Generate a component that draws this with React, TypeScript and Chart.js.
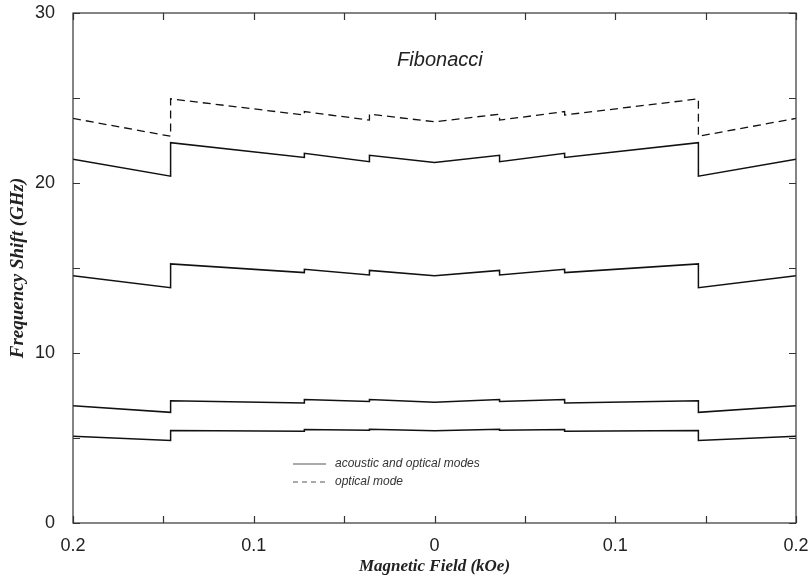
import { useEffect, useRef } from 'react';
import { Chart, registerables } from 'chart.js';

Chart.register(...registerables);

// Magnetic field (kOe); repeated values mark the discontinuities
const fieldKOe = [-0.2, -0.146, -0.146, -0.072, -0.072, -0.036, -0.036, 0, 0.036, 0.036, 0.072, 0.072, 0.146, 0.146, 0.2];

// Frequency shifts (GHz)
const opticalMode = [23.8, 22.75, 24.95, 24.0, 24.2, 23.7, 24.05, 23.6, 24.05, 23.7, 24.2, 24.0, 24.95, 22.75, 23.8];
const modeA = [21.4, 20.4, 22.37, 21.5, 21.75, 21.25, 21.63, 21.2, 21.63, 21.25, 21.75, 21.5, 22.37, 20.4, 21.4];
const modeB = [14.55, 13.84, 15.24, 14.73, 14.92, 14.59, 14.86, 14.55, 14.86, 14.59, 14.92, 14.73, 15.24, 13.84, 14.55];
const modeC = [6.9, 6.51, 7.19, 7.06, 7.27, 7.15, 7.27, 7.1, 7.27, 7.15, 7.27, 7.06, 7.19, 6.51, 6.9];
const modeD = [5.1, 4.85, 5.44, 5.4, 5.5, 5.45, 5.51, 5.43, 5.51, 5.45, 5.5, 5.4, 5.44, 4.85, 5.1];

const xTickValues = [-0.2, -0.15, -0.1, -0.05, 0, 0.05, 0.1, 0.15, 0.2];
const xTickLabels = ['0.2', '', '0.1', '', '0', '', '0.1', '', '0.2'];
const yTickValues = [0, 5, 10, 15, 20, 25, 30];
const yTickLabels = ['0', '', '10', '', '20', '', '30'];

const legendLabels = ['acoustic and optical modes', 'optical mode'];
const panelTitle = 'Fibonacci';

const toPoints = (ys: number[]) => ys.map((v, i) => ({ x: fieldKOe[i], y: v }));

const framePlugin = {
  id: 'framePlugin',
  afterDatasetsDraw(chart: any) {
    const { ctx, chartArea: a, scales } = chart;
    const x = scales.x;
    const y = scales.y;
    ctx.save();
    ctx.strokeStyle = '#333';
    ctx.lineWidth = 1.2;
    ctx.strokeRect(a.left, a.top, a.right - a.left, a.bottom - a.top);
    ctx.beginPath();
    const tl = 7;
    x.ticks.forEach((t: any) => {
      const px = Math.round(x.getPixelForValue(t.value)) + 0.5;
      ctx.moveTo(px, a.bottom);
      ctx.lineTo(px, a.bottom - tl);
      ctx.moveTo(px, a.top);
      ctx.lineTo(px, a.top + tl);
    });
    y.ticks.forEach((t: any) => {
      const py = Math.round(y.getPixelForValue(t.value)) + 0.5;
      ctx.moveTo(a.left, py);
      ctx.lineTo(a.left + tl, py);
      ctx.moveTo(a.right, py);
      ctx.lineTo(a.right - tl, py);
    });
    ctx.stroke();

    // panel title
    ctx.fillStyle = '#222';
    ctx.font = 'italic 20px "Liberation Sans", Arial, sans-serif';
    ctx.textAlign = 'center';
    ctx.textBaseline = 'middle';
    ctx.fillText(panelTitle, x.getPixelForValue(0.003), y.getPixelForValue(27.2));

    // legend
    const lx = a.left + 220;
    const ly = a.top + 451;
    ctx.strokeStyle = '#555';
    ctx.lineWidth = 1;
    ctx.beginPath();
    ctx.moveTo(lx, ly);
    ctx.lineTo(lx + 33, ly);
    ctx.stroke();
    ctx.setLineDash([5, 4]);
    ctx.beginPath();
    ctx.moveTo(lx, ly + 18);
    ctx.lineTo(lx + 33, ly + 18);
    ctx.stroke();
    ctx.setLineDash([]);
    ctx.fillStyle = '#333';
    ctx.font = 'italic 12px "Liberation Sans", Arial, sans-serif';
    ctx.textAlign = 'left';
    ctx.fillText(legendLabels[0], lx + 42, ly);
    ctx.fillText(legendLabels[1], lx + 42, ly + 18);
    ctx.restore();
  },
};

export default function App() {
  const ref = useRef<HTMLCanvasElement>(null);
  useEffect(() => {
    if (!ref.current) return;
    const solid = (data: number[]) => ({
      data: toPoints(data),
      borderColor: '#111',
      borderWidth: 1.5,
      pointRadius: 0,
      tension: 0,
      fill: false,
    });
    const chart = new Chart(ref.current, {
      type: 'line',
      data: {
        datasets: [
          { ...solid(opticalMode), borderDash: [8, 5], borderWidth: 1.3 },
          solid(modeA),
          solid(modeB),
          solid(modeC),
          solid(modeD),
        ],
      },
      options: {
        animation: false,
        responsive: false,
        layout: { padding: { top: 13, right: 15, left: 0, bottom: 0 } },
        plugins: { legend: { display: false }, tooltip: { enabled: false } },
        scales: {
          x: {
            type: 'linear',
            min: -0.2,
            max: 0.2,
            grid: { display: false },
            border: { display: false },
            afterBuildTicks: (s: any) => {
              s.ticks = xTickValues.map((v) => ({ value: v }));
            },
            afterFit: (s: any) => {
              s.height = 60;
              s.paddingLeft = 0;
              s.paddingRight = 0;
            },
            ticks: {
              autoSkip: false,
              maxRotation: 0,
              padding: 4,
              color: '#222',
              font: { family: '"Liberation Sans", Arial, sans-serif', size: 18 },
              callback: (_v: any, i: number) => xTickLabels[i],
            },
            title: {
              display: true,
              text: 'Magnetic Field (kOe)',
              color: '#222',
              padding: { top: 0, bottom: 6 },
              font: { family: '"Liberation Serif", "Times New Roman", serif', size: 17, style: 'italic', weight: 'bold' },
            },
          },
          y: {
            type: 'linear',
            min: 0,
            max: 30,
            grid: { display: false },
            border: { display: false },
            afterBuildTicks: (s: any) => {
              s.ticks = yTickValues.map((v) => ({ value: v }));
            },
            afterFit: (s: any) => {
              s.width = 73;
              s.paddingTop = 0;
              s.paddingBottom = 0;
            },
            ticks: {
              autoSkip: false,
              padding: 10,
              color: '#222',
              font: { family: '"Liberation Sans", Arial, sans-serif', size: 18 },
              callback: (_v: any, i: number) => yTickLabels[i],
            },
            title: {
              display: true,
              text: 'Frequency Shift (GHz)',
              color: '#222',
              padding: { top: 7, bottom: 0 },
              font: { family: '"Liberation Serif", "Times New Roman", serif', size: 19, style: 'italic', weight: 'bold' },
            },
          },
        },
      },
      plugins: [framePlugin],
    });
    return () => chart.destroy();
  }, []);
  return (
    <div style={{ position: 'fixed', left: 0, top: 0, width: 811, height: 583, background: '#fff' }}>
      <canvas ref={ref} width={811} height={583} />
    </div>
  );
}
